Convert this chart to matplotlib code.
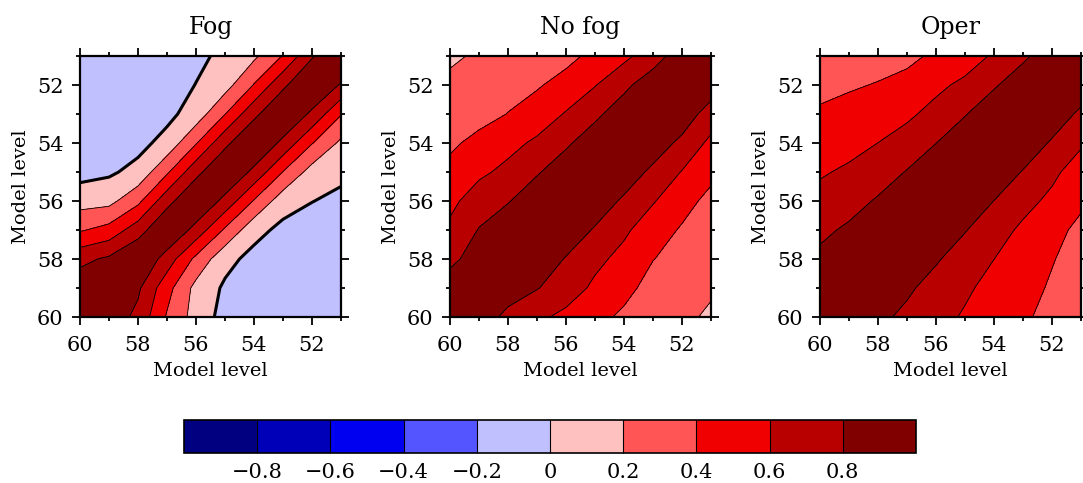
import numpy as np
import matplotlib
matplotlib.use('Agg')
import matplotlib.pyplot as plt
from matplotlib.colors import ListedColormap, BoundaryNorm
from matplotlib.ticker import MultipleLocator

plt.rcParams['font.family'] = ['DejaVu Serif', 'DejaVu Sans']

# model levels (both axes)
model_levels = [51, 52, 53, 54, 55, 56, 57, 58, 59, 60]

# correlation matrices, rows = y level 51..60, columns = x level 51..60
fog = [
    [1.00, 0.78, 0.41, 0.16, 0.05, -0.05, -0.10, -0.10, -0.09, -0.08],
    [0.78, 1.00, 0.76, 0.41, 0.12, 0.005, -0.10, -0.10, -0.10, -0.10],
    [0.41, 0.76, 1.00, 0.75, 0.395, 0.087, -0.051, -0.10, -0.12, -0.12],
    [0.16, 0.41, 0.75, 1.00, 0.75, 0.385, 0.065, -0.06, -0.10, -0.10],
    [0.05, 0.12, 0.395, 0.75, 1.00, 0.74, 0.37, 0.06, -0.03, -0.07],
    [-0.05, 0.005, 0.087, 0.385, 0.74, 1.00, 0.73, 0.35, 0.14, 0.12],
    [-0.10, -0.10, -0.051, 0.065, 0.37, 0.73, 1.00, 0.71, 0.47, 0.38],
    [-0.10, -0.10, -0.10, -0.06, 0.06, 0.35, 0.71, 1.00, 0.835, 0.745],
    [-0.09, -0.10, -0.12, -0.10, -0.03, 0.14, 0.47, 0.835, 1.00, 0.93],
    [-0.08, -0.10, -0.12, -0.10, -0.07, 0.12, 0.38, 0.745, 0.93, 1.00],
]
no_fog = [
    [1.00, 0.90, 0.718, 0.549, 0.45, 0.345, 0.30, 0.265, 0.225, 0.17],
    [0.90, 1.00, 0.90, 0.76, 0.59, 0.47, 0.38, 0.33, 0.27, 0.24],
    [0.718, 0.90, 1.00, 0.89, 0.765, 0.615, 0.49, 0.405, 0.327, 0.30],
    [0.549, 0.76, 0.89, 1.00, 0.89, 0.775, 0.635, 0.54, 0.46, 0.363],
    [0.45, 0.59, 0.765, 0.89, 1.00, 0.89, 0.785, 0.65, 0.561, 0.46],
    [0.345, 0.47, 0.615, 0.775, 0.89, 1.00, 0.895, 0.79, 0.70, 0.551],
    [0.30, 0.38, 0.49, 0.635, 0.785, 0.895, 1.00, 0.90, 0.81, 0.64],
    [0.265, 0.33, 0.405, 0.54, 0.65, 0.79, 0.90, 1.00, 0.90, 0.746],
    [0.225, 0.27, 0.327, 0.46, 0.561, 0.70, 0.81, 0.90, 1.00, 0.91],
    [0.17, 0.24, 0.30, 0.363, 0.46, 0.551, 0.64, 0.746, 0.91, 1.00],
]
oper = [
    [1.00, 0.90, 0.767, 0.63, 0.487, 0.44, 0.345, 0.33, 0.32, 0.31],
    [0.90, 1.00, 0.90, 0.78, 0.65, 0.55, 0.47, 0.41, 0.38, 0.36],
    [0.767, 0.90, 1.00, 0.91, 0.79, 0.67, 0.56, 0.51, 0.46, 0.42],
    [0.63, 0.78, 0.91, 1.00, 0.91, 0.798, 0.69, 0.601, 0.54, 0.50],
    [0.487, 0.65, 0.79, 0.91, 1.00, 0.91, 0.81, 0.71, 0.63, 0.58],
    [0.44, 0.55, 0.67, 0.798, 0.91, 1.00, 0.92, 0.82, 0.73, 0.66],
    [0.345, 0.47, 0.56, 0.69, 0.81, 0.92, 1.00, 0.92, 0.83, 0.76],
    [0.33, 0.41, 0.51, 0.601, 0.71, 0.82, 0.92, 1.00, 0.93, 0.84],
    [0.32, 0.38, 0.46, 0.54, 0.63, 0.73, 0.83, 0.93, 1.00, 0.93],
    [0.31, 0.36, 0.42, 0.50, 0.58, 0.66, 0.76, 0.84, 0.93, 1.00],
]

titles = ['Fog', 'No fog', 'Oper']
contour_levels = [-1.0, -0.8, -0.6, -0.4, -0.2, 0.0, 0.2, 0.4, 0.6, 0.8, 1.0]
cbar_labels = ['\u22120.8', '\u22120.6', '\u22120.4', '\u22120.2', '0', '0.2', '0.4', '0.6', '0.8']
colors = ['#000080', '#0000B8', '#0000F0', '#5555FF', '#C0C0FF',
          '#FFC0C0', '#FF5555', '#F00000', '#B80000', '#800000']

cmap = ListedColormap(colors)
norm = BoundaryNorm(contour_levels, cmap.N)

fig = plt.figure(figsize=(10.83, 4.83), dpi=100)
W, H = 1083, 483
lefts = [80, 450, 820]
ax_w, ax_top, ax_h = 261, 56, 261

X, Y = np.meshgrid(model_levels, model_levels)
line_levels = contour_levels[1:-1]
for left, data, title in zip(lefts, [fog, no_fog, oper], titles):
    ax = fig.add_axes([left / W, 1 - (ax_top + ax_h) / H, ax_w / W, ax_h / H])
    Z = np.array(data)
    cf = ax.contourf(X, Y, Z, levels=contour_levels, cmap=cmap, norm=norm)
    lw = [2.2 if lv == 0 else 0.6 for lv in line_levels]
    ax.contour(X, Y, Z, levels=line_levels, colors='black', linewidths=lw,
               linestyles='solid')
    ax.set_xlim(60, 51)
    ax.set_ylim(60, 51)
    ax.xaxis.set_major_locator(MultipleLocator(2))
    ax.yaxis.set_major_locator(MultipleLocator(2))
    ax.xaxis.set_minor_locator(MultipleLocator(1))
    ax.yaxis.set_minor_locator(MultipleLocator(1))
    ax.tick_params(which='both', direction='out', top=True, right=True,
                   width=1.3, labelsize=15, pad=6)
    ax.tick_params(axis='x', which='both', pad=8)
    ax.tick_params(which='major', length=6)
    ax.tick_params(which='minor', length=3)
    for sp in ax.spines.values():
        sp.set_linewidth(1.6)
    ax.set_xlabel('Model level', fontsize=14, labelpad=5)
    ax.set_ylabel('Model level', fontsize=14, labelpad=5)
    ax.set_title(title, fontsize=17, pad=16)

cax = fig.add_axes([184 / W, 1 - 453 / H, 732 / W, 33 / H])
cb = fig.colorbar(cf, cax=cax, orientation='horizontal', drawedges=True)
cb.set_ticks(contour_levels[1:-1])
cb.set_ticklabels(cbar_labels)
cb.ax.minorticks_off()
cb.ax.tick_params(which='both', length=0, labelsize=15, pad=7)
cb.outline.set_linewidth(1.2)
cb.dividers.set_color('black')
cb.dividers.set_linewidth(0.8)

fig.savefig('out.png', dpi=100)
